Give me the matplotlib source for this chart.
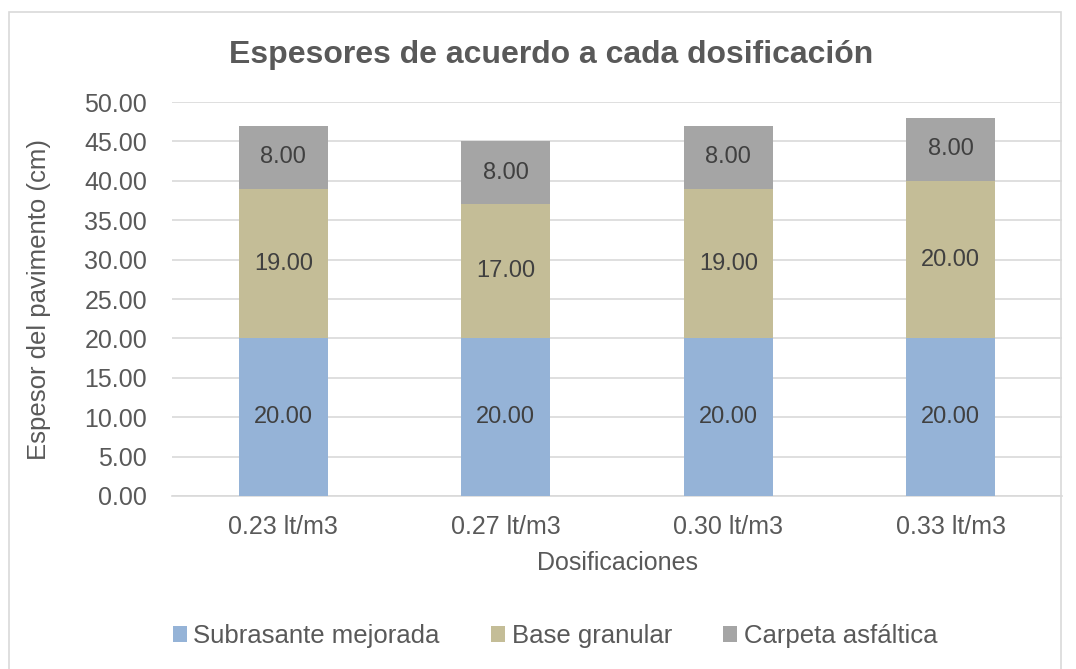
import numpy as np
import matplotlib.pyplot as plt
from matplotlib.patches import Rectangle

plt.rcParams['font.family'] = ['Liberation Sans', 'DejaVu Sans']

dosificaciones = ["0.23 lt/m3", "0.27 lt/m3", "0.30 lt/m3", "0.33 lt/m3"]
subrasante = [20.0, 20.0, 20.0, 20.0]
base = [19.0, 17.0, 19.0, 20.0]
carpeta = [8.0, 8.0, 8.0, 8.0]

series = [("Subrasante mejorada", subrasante, "#95B3D7"),
          ("Base granular", base, "#C4BD97"),
          ("Carpeta asfáltica", carpeta, "#A5A5A5")]
texto = "#595959"

fig = plt.figure(figsize=(10.76, 6.69), dpi=100)
# marco del area del grafico
fig.patches.append(Rectangle((9 / 1076, -0.05), 1052 / 1076, 1.05 - 12 / 669,
                             transform=fig.transFigure, fill=False,
                             edgecolor="#D9D9D9", linewidth=1.2))
ax = fig.add_axes([0.160, 0.2586, 0.827, 0.5889])

x = np.arange(len(dosificaciones))
fondo = np.zeros(len(dosificaciones))
for nombre, valores, color in series:
    barras = ax.bar(x, valores, 0.4, bottom=fondo, color=color, label=nombre, zorder=3)
    for b, v in zip(barras, valores):
        ax.text(b.get_x() + b.get_width() / 2, b.get_y() + v / 2, f"{v:.2f}",
                ha="center", va="center", fontsize=17, color="#404040", zorder=4)
    fondo = fondo + np.array(valores)

ax.set_xlim(-0.5, 3.5)
ax.set_ylim(0, 50)
ax.set_yticks(np.arange(0, 51, 5))
ax.set_yticklabels([f"{v:.2f}" for v in np.arange(0, 51, 5)])
ax.set_xticks(x)
ax.set_xticklabels(dosificaciones)
ax.yaxis.grid(True, color="#D9D9D9", linewidth=1.2, zorder=0)
for s in ["top", "right", "left"]:
    ax.spines[s].set_visible(False)
ax.spines["bottom"].set_color("#D9D9D9")
ax.spines["bottom"].set_linewidth(1.2)
ax.tick_params(axis="both", length=0, labelsize=18, labelcolor=texto)
ax.tick_params(axis="y", pad=18)
ax.tick_params(axis="x", pad=14)

ax.set_xlabel("Dosificaciones", fontsize=18, color=texto, labelpad=8)
ax.set_ylabel("Espesor del pavimento (cm)", fontsize=18.5, color=texto, labelpad=24)
fig.text(0.512, 0.918, "Espesores de acuerdo a cada dosificación", ha="center",
         va="center", fontsize=23, fontweight="bold", color=texto)

ax.legend(loc="center", bbox_to_anchor=(555 / 1076, 1 - 636 / 669),
          bbox_transform=fig.transFigure,
          ncol=3, frameon=False, fontsize=18.5, labelcolor=texto,
          handlelength=0.55, handleheight=0.55, handletextpad=0.25, columnspacing=2.0)

fig.savefig("out.png", dpi=100)
